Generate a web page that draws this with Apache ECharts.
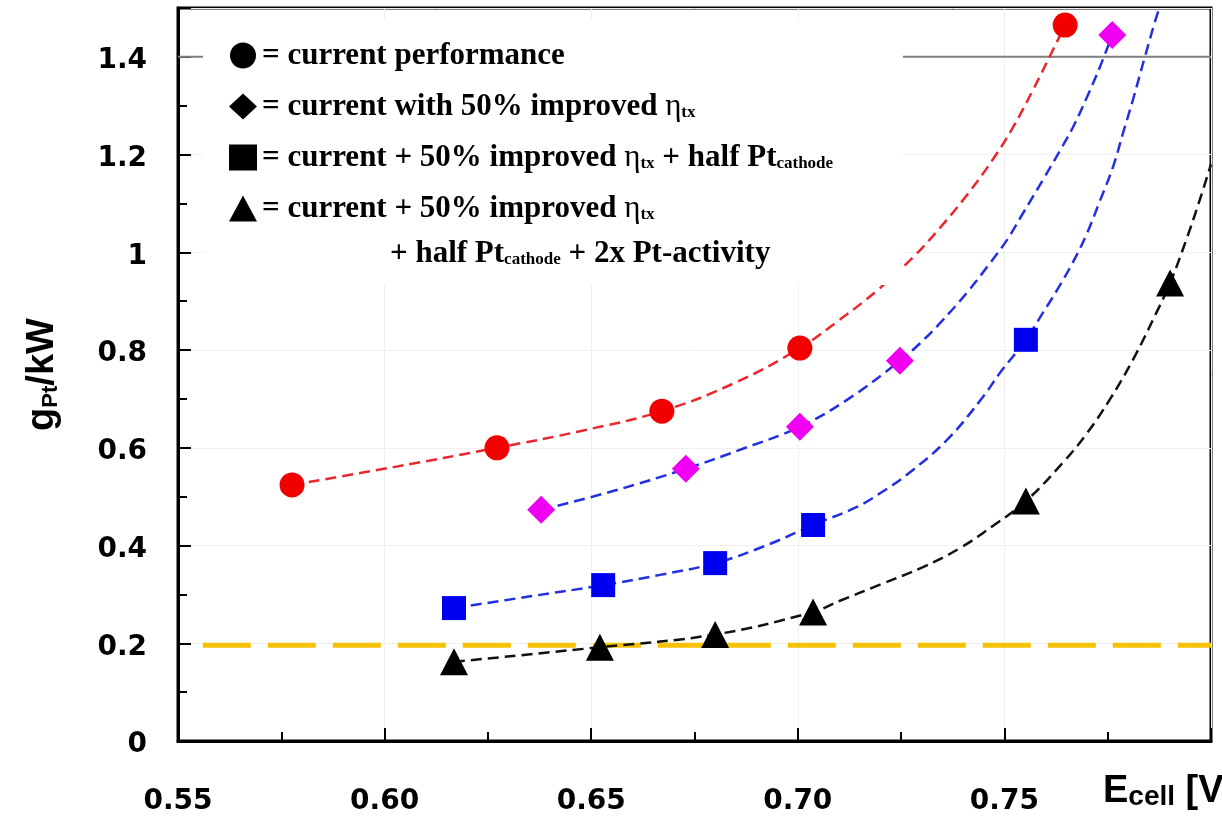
<!DOCTYPE html>
<html>
<head>
<meta charset="utf-8">
<style>
  html, body { margin: 0; padding: 0; background: #fff; }
  #chart { width: 1222px; height: 816px; }
</style>
<script src="https://cdn.jsdelivr.net/npm/echarts@6/dist/echarts.min.js"></script>
</head>
<body>
<div id="chart"></div>
<script>
// axis ticks, E_cell [V] vs g_Pt/kW
var xTicks = [0.55, 0.60, 0.65, 0.70, 0.75, 0.80];
var yTicks = [0, 0.2, 0.4, 0.6, 0.8, 1, 1.2, 1.4];
var yLabels = ['0', '0.2', '0.4', '0.6', '0.8', '1', '1.2', '1.4'];
var yMax = 1.5;

var seriesNames = [
  'current performance',
  'current with 50% improved eta',
  'current + 50% improved eta + half Pt',
  'current + 50% improved eta + half Pt + 2x activity'
];

// measured points
var currentPts = [[0.5776, 0.524], [0.6272, 0.600], [0.6671, 0.675], [0.7005, 0.804], [0.7647, 1.465]];
var etaPts = [[0.6379, 0.473], [0.6729, 0.557], [0.7005, 0.643], [0.7247, 0.778], [0.7761, 1.445]];
var halfPtPts = [[0.6168, 0.272], [0.6529, 0.319], [0.6800, 0.364], [0.7037, 0.442], [0.7552, 0.821]];
var activityPts = [[0.6168, 0.162], [0.6521, 0.192], [0.6800, 0.218], [0.7037, 0.264], [0.7552, 0.491], [0.7901, 0.937]];

// dashed fit curves
var currentFit = [[0.5776, 0.524], [0.6025, 0.561], [0.6272, 0.600], [0.6473, 0.634], [0.6671, 0.675],
  [0.6848, 0.733], [0.7005, 0.804], [0.7095, 0.858], [0.7192, 0.922], [0.7279, 0.990], [0.7344, 1.050],
  [0.7410, 1.118], [0.7472, 1.190], [0.7521, 1.256], [0.7569, 1.332], [0.7618, 1.415], [0.7647, 1.465]];
var etaFit = [[0.6379, 0.473], [0.6555, 0.512], [0.6729, 0.557], [0.6867, 0.598], [0.7005, 0.643],
  [0.7119, 0.698], [0.7247, 0.778], [0.7296, 0.814], [0.7344, 0.855], [0.7409, 0.917], [0.7458, 0.970],
  [0.7506, 1.025], [0.7545, 1.080], [0.7593, 1.148], [0.7635, 1.209], [0.7666, 1.256], [0.7700, 1.318],
  [0.7731, 1.379], [0.7761, 1.445]];
var halfPtFit = [[0.6168, 0.272], [0.6352, 0.296], [0.6529, 0.319], [0.6667, 0.340], [0.6800, 0.364],
  [0.6920, 0.399], [0.7037, 0.442], [0.7143, 0.479], [0.7199, 0.507], [0.7264, 0.545], [0.7361, 0.616],
  [0.7448, 0.704], [0.7489, 0.753], [0.7552, 0.821], [0.7593, 0.876], [0.7627, 0.922], [0.7666, 0.980],
  [0.7700, 1.039], [0.7731, 1.105], [0.7763, 1.175], [0.7787, 1.244], [0.7811, 1.312], [0.7840, 1.400],
  [0.7864, 1.471], [0.7875, 1.500]];
var activityFit = [[0.6168, 0.162], [0.6521, 0.192], [0.6800, 0.218], [0.7037, 0.264], [0.7102, 0.287],
  [0.7199, 0.320], [0.7303, 0.356], [0.7393, 0.395], [0.7472, 0.440], [0.7552, 0.491], [0.7642, 0.570],
  [0.7700, 0.630], [0.7756, 0.700], [0.7811, 0.780], [0.7867, 0.875], [0.7901, 0.937], [0.7942, 1.030],
  [0.7970, 1.100], [0.8000, 1.180]];

var targetLine = [[0.556, 0.196], [0.80, 0.196]];
var refLine = [[0.55, 1.4], [0.80, 1.4]];

var serif = 'Liberation Serif';
var legendRich = {
  n: { fontFamily: serif, fontWeight: 'bold', fontSize: 31, lineHeight: 30, color: '#000' },
  g: { fontFamily: serif, fontWeight: 'normal', fontSize: 31, lineHeight: 30, color: '#000' },
  s: { fontFamily: serif, fontWeight: 'bold', fontSize: 17, lineHeight: 10, verticalAlign: 'bottom', color: '#000' }
};
var legendText = {};
legendText[seriesNames[0]] = '{n|= current performance}';
legendText[seriesNames[1]] = '{n|= current with 50% improved }{g|η}{s|tx}';
legendText[seriesNames[2]] = '{n|= current + 50% improved }{g|η}{s|tx}{n| + half Pt}{s|cathode}';
legendText[seriesNames[3]] = '{n|= current + 50% improved }{g|η}{s|tx}';

var chart = echarts.init(document.getElementById('chart'), null, { renderer: 'canvas' });

function fitLine(data, color) {
  return {
    type: 'line', data: data, smooth: 0.4, showSymbol: false, silent: true, z: 2,
    lineStyle: { color: color, width: 2.5, type: [11, 6] }
  };
}
function markers(name, data, symbol, size, color) {
  return {
    type: 'scatter', name: name, data: data, symbol: symbol, symbolSize: size, z: 4,
    itemStyle: { color: color, opacity: 1 }
  };
}

var tickFont = { fontFamily: 'DejaVu Sans', fontWeight: 'bold', fontSize: 28, color: '#000' };

chart.setOption({
  animation: false,
  backgroundColor: '#fff',
  grid: { left: 178, right: 11, top: 8, bottom: 75, show: true, borderColor: '#000', borderWidth: 3,
    outerBoundsMode: 'none' },
  xAxis: {
    type: 'value',
    min: xTicks[0], max: xTicks[xTicks.length - 1],
    interval: 0.05,
    axisLine: { onZero: false, lineStyle: { color: '#000', width: 3 } },
    axisTick: { inside: true, length: 13, lineStyle: { color: '#000', width: 2 } },
    minorTick: { show: true, splitNumber: 2, length: 9, lineStyle: { color: '#000', width: 2 } },
    splitLine: { show: true, lineStyle: { color: '#efefef', width: 1 } },
    axisLabel: Object.assign({
      margin: 47,
      formatter: function (v) { return Math.abs(v - 0.8) < 1e-6 ? '' : v.toFixed(2); }
    }, tickFont)
  },
  yAxis: {
    type: 'value',
    min: 0, max: yMax, interval: 0.2,
    name: '{g|g}{s|Pt}{g|/kW}',
    nameLocation: 'middle', nameRotate: 90, nameGap: 116,
    nameTextStyle: {
      rich: {
        g: { fontFamily: 'Liberation Sans', fontWeight: 'bold', fontSize: 38, lineHeight: 38, color: '#000' },
        s: { fontFamily: 'Liberation Sans', fontWeight: 'bold', fontSize: 22, lineHeight: 14, verticalAlign: 'bottom', color: '#000' }
      }
    },
    axisLine: { onZero: false, lineStyle: { color: '#000', width: 3 } },
    axisTick: { inside: true, length: 13, lineStyle: { color: '#000', width: 2 } },
    minorTick: { show: true, splitNumber: 2, length: 9, lineStyle: { color: '#000', width: 2 } },
    splitLine: { show: true, lineStyle: { color: '#efefef', width: 1 } },
    axisLabel: Object.assign({
      margin: 31,
      formatter: function (v) {
        for (var i = 0; i < yTicks.length; i++) {
          if (Math.abs(v - yTicks[i]) < 1e-6) return '{t|' + yLabels[i] + '}';
        }
        return '';
      },
      rich: { t: Object.assign({ padding: [8, 0, 0, 0] }, tickFont) }
    }, tickFont)
  },
  legend: {
    orient: 'vertical', left: 224, top: 35, z: 10,
    itemWidth: 28, itemHeight: 26, itemGap: 20,
    selectedMode: false,
    data: [
      { name: seriesNames[0], icon: 'circle', itemStyle: { color: '#000' } },
      { name: seriesNames[1], icon: 'diamond', itemStyle: { color: '#000' } },
      { name: seriesNames[2], icon: 'rect', itemStyle: { color: '#000' } },
      { name: seriesNames[3], icon: 'triangle', itemStyle: { color: '#000' } }
    ],
    formatter: function (name) { return legendText[name]; },
    textStyle: { fontFamily: serif, fontSize: 31, lineHeight: 30, rich: legendRich }
  },
  graphic: [
    { type: 'rect', z: 5, shape: { x: 203, y: 19, width: 700, height: 266 }, style: { fill: '#fff' } },
    { type: 'text', z: 12, left: 390, top: 238,
      style: { text: '{n|+ half Pt}{s|cathode}{n| + 2x Pt-activity}', rich: legendRich } },
    { type: 'text', z: 12, left: 1103, top: 773,
      style: {
        text: '{e|E}{c|cell}{e| [V]}',
        rich: {
          e: { fontFamily: 'Liberation Sans', fontWeight: 'bold', fontSize: 38, lineHeight: 38, fill: '#000' },
          c: { fontFamily: 'Liberation Sans', fontWeight: 'bold', fontSize: 28, lineHeight: 16, verticalAlign: 'bottom', fill: '#000' }
        }
      } }
  ],
  series: [
    { type: 'line', data: refLine, showSymbol: false, silent: true, z: 1,
      lineStyle: { color: '#808080', width: 2 } },
    { type: 'line', data: targetLine, showSymbol: false, silent: true, z: 2,
      lineStyle: { color: '#F6C200', width: 5, type: [48, 17] } },
    fitLine(currentFit, '#E8282E'),
    fitLine(etaFit, '#2430E0'),
    fitLine(halfPtFit, '#2430E0'),
    fitLine(activityFit, '#111111'),
    markers(seriesNames[0], currentPts, 'circle', 25, '#F20000'),
    markers(seriesNames[1], etaPts, 'diamond', 28, '#F000F0'),
    markers(seriesNames[2], halfPtPts, 'rect', 24, '#0000F0'),
    markers(seriesNames[3], activityPts, 'triangle', [28, 27], '#000000')
  ]
});
</script>
</body>
</html>
